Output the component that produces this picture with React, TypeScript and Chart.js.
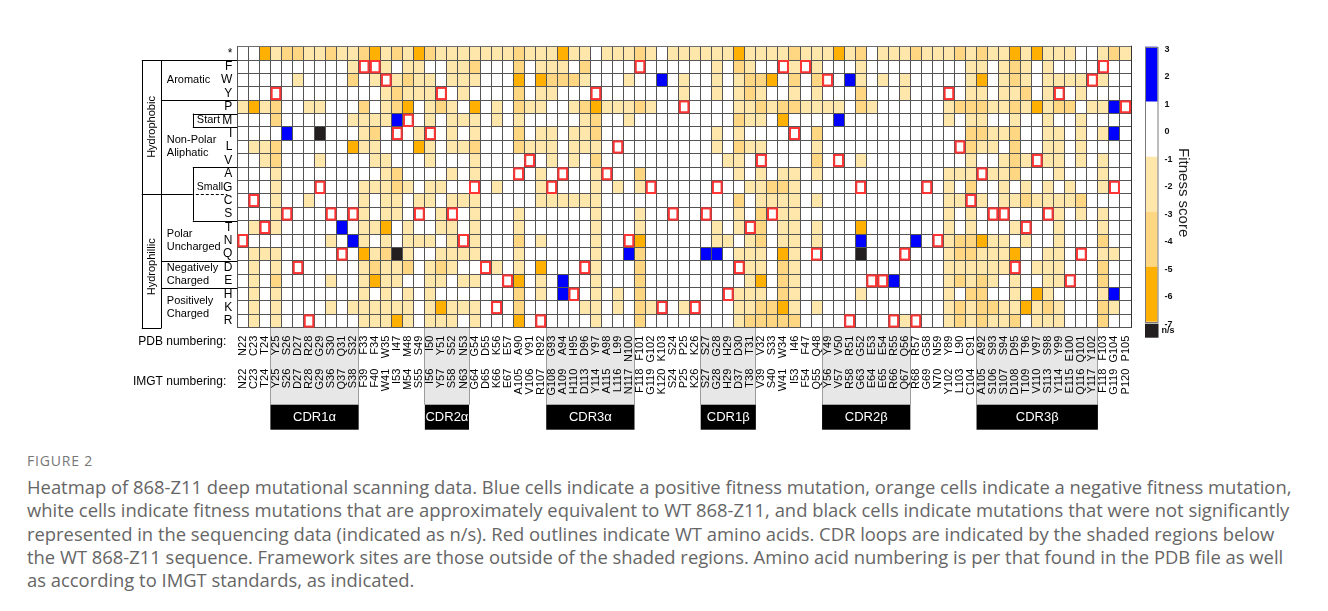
import React, { useEffect, useRef } from "react";
import { Chart, registerables } from "chart.js";

Chart.register(...registerables);

const FONT = "'Liberation Sans', Arial, Helvetica, sans-serif";

// Substitution rows (top to bottom)
const ROWS = ["*", "F", "W", "Y", "P", "M", "I", "L", "V", "A", "G", "C", "S", "T", "N", "Q", "D", "E", "H", "K", "R"];

// Column labels
const PDB_LABELS = ["N22","C23","T24","Y25","S26","D27","R28","G29","S30","Q31","S32","F33","F34","W35","I47","M48","S49","I50","Y51","S52","N53","G54","D55","K56","E57","A90","V91","R92","G93","A94","H95","D96","Y97","A98","L99","N100","F101","G102","K103","S24","P25","K26","S27","G28","H29","D30","T31","V32","S33","W34","I46","F47","Q48","Y49","V50","R51","G52","E53","E54","R55","Q56","R57","G58","N59","Y89","L90","C91","A92","S93","S94","D95","T96","V97","S98","Y99","E100","Q101","Y102","F103","G104","P105"];
const IMGT_LABELS = ["N22","C23","T24","Y25","S26","D27","R28","G29","S36","Q37","S38","F39","F40","W41","I53","M54","S55","I56","Y57","S58","N63","G64","D65","K66","E67","A105","V106","R107","G108","A109","H110","D113","Y114","A115","L116","N117","F118","G119","K120","S24","P25","K26","S27","G28","H29","D37","T38","V39","S40","W41","I53","F54","Q55","Y56","V57","R58","G63","E64","E65","R66","Q67","R68","G69","N70","Y102","L103","C104","A105","S106","S107","D108","T109","V110","S113","Y114","E115","Q116","Y117","F118","G119","P120"];

// Row (residue) that carries the red WT outline in each column, as drawn
const WT_RESIDUES = "NCTYSDRGSQSFFWIMSIYSNGDKEAVRGAHDYALNFGKSPKSGHDTVSFIFQWVRGEERQRGNYLCASSDTVSYEQWFGP".split("");

// Fitness classes, one string per row
// '.' ~0 (white), 'l' ~-2, 'm' ~-4, 'o' ~-6, 'B' ~+2 (blue), 'x' n/s
const FIT_STAR = "..olmmllml lmolmlomll lllllmlllo ll.lllml.l lllllollll mlllolm.ll lmlllmlmll ololll..lml";
const FIT_F = ".......... l..l.ll..l lm...m.lll .m........ ...l.ml... l.l...l... ......ll.l ml.l.......";
const FIT_W = ".....l.... m.l.lmll.l ll...o.omm ml...l..B. l..l.lmmo. m.m..Bl.l. l.....lo.l ml.llll.l..";
const FIT_Y = ".......... ...lmlll.. l....m.ll. .......... l..l.lml.. l.l...m... l.....ll.l lm.l..l....";
const FIT_P = "lolm..ll.. .m.lmo.lml .o.l.mll.. lmolllml.. .....llmlm mllll.ml.. ....lmmmll mlolmm.llB.";
const FIT_M = "...m...... llllB..l.l ll.l.l.... .lm..l.... .....mll.o ....B..... ....l.ll.. l..l..l....";
const FIT_I = "....B..x.. .lm...l..l .l...m.ll. llm....... ...l.l.... ..m....... ......mmll m..ll.l.lB.";
const FIT_L = ".llm...... oll...ol.l lm...mlll. lll....... ...l.mll.. ..l....... ......mll. m..ll.l....";
const FIT_V = "..lm...l.. ..ll...l.. .l......l. l.m....... ....ll.... ..m...l... ......l..l ml.ll.l.l..";
const FIT_A = "...l...... ...lm....l .l.....l.. ..l...m... .....l.l.l l.l....... ....lll.ll m...l...l..";
const FIT_G = "...l...... .lllml.ll. ...l...l.. ..l.l.l... ......llmm l......... ....l.m..l .l.l.l..l..";
const FIT_C = "...l..l... .l.ll.ll.l ll.....lll lll....... .....m.lll l.l....... ....ll.l.l lmllllm....";
const FIT_S = "...l...... .l.ll...l. .l...l.... ..l...l... .....l.m.l l......... ....l.l... ....l.l.l..";
const FIT_T = ".l.l.....B .llo.l..ll .l...l.... ..l...l... ...l.l.m.l l.l...o... ....l.l... l...l...l..";
const FIT_N = "........l. Bl.l.lll.l .l...m.l.. ..l...o... ...ll.lm.l l.l...B... .B..lmmoll .l..l...m..";
const FIT_Q = ".lll...... .olmxl..ll ll...l.... ..l..Bm... ..BB.lll.o l.....x... ....lmmlll o..ll...ll.";
const FIT_D = ".l.l...... .lmllm.lml ...l.l.o.. ..l...m... ......ll.m l......... ....llllll ..lll...m..";
const FIT_E = ".l.m....l. .loll..ll. ll...o.l.B ..l...m... ......lo.m l........B ....lmlml. l..ll...m..";
const FIT_H = ".l.l...... .l.l.l.l.. .....m.l.B ..l.l.m... .....lll.m l.....l... ....l.mm.. l.ol....lB.";
const FIT_K = ".l.l....l. llllll.lol ll...m.... .ll.l.ml.. l....llmmo l.l....... ....lmlmml lolml...ml.";
const FIT_R = ".l.l...... .lllol.lll .l...o.... ..l...m... .....lmmmm m......... l...lmlmll m.lll...m..";
const FITNESS_ROWS = [FIT_STAR, FIT_F, FIT_W, FIT_Y, FIT_P, FIT_M, FIT_I, FIT_L, FIT_V, FIT_A, FIT_G, FIT_C, FIT_S, FIT_T, FIT_N, FIT_Q, FIT_D, FIT_E, FIT_H, FIT_K, FIT_R];
const CODE_SCORE: Record<string, number | null> = { ".": 0, l: -2, m: -4, o: -6, B: 2, x: null };

// CDR loops (column ranges)
const CDR_NAMES = ["CDR1α", "CDR2α", "CDR3α", "CDR1β", "CDR2β", "CDR3β"];
const CDR_START = [3, 17, 28, 42, 53, 67];
const CDR_END = [10, 20, 35, 46, 60, 77];

// Colour scale
const COLORBAR_TICKS = [3, 2, 1, 0, -1, -2, -3, -4, -5, -6, -7];
const BLUE = "#0000ff";
const WHITE = "#ffffff";
const LIGHT = "#ffe6ab";
const MEDIUM = "#ffd782";
const ORANGE = "#ffb000";
const NS = "#231f20";
const COLOR_BANDS: [number, number, string][] = [[3, 1, BLUE], [1, -1, WHITE], [-1, -3, LIGHT], [-3, -5, MEDIUM], [-5, -7, ORANGE]];

const CAPTION_TITLE = "FIGURE 2";
const CAPTION_LINES = [
  "Heatmap of 868-Z11 deep mutational scanning data. Blue cells indicate a positive fitness mutation, orange cells indicate a negative fitness mutation,",
  "white cells indicate fitness mutations that are approximately equivalent to WT 868-Z11, and black cells indicate mutations that were not significantly",
  "represented in the sequencing data (indicated as n/s). Red outlines indicate WT amino acids. CDR loops are indicated by the shaded regions below",
  "the WT 868-Z11 sequence. Framework sites are those outside of the shaded regions. Amino acid numbering is per that found in the PDB file as well",
  "as according to IMGT standards, as indicated.",
];

function colorFor(v: number | null): string {
  if (v === null || v === undefined) return NS;
  if (v > 1) return BLUE;
  if (v >= -1) return WHITE;
  if (v >= -3) return LIGHT;
  if (v >= -5) return MEDIUM;
  return ORANGE;
}

function rowCodes(s: string): string[] {
  return s.replace(/ /g, "").padEnd(PDB_LABELS.length, ".").slice(0, PDB_LABELS.length).split("");
}

function hl(ctx: CanvasRenderingContext2D, y: number, x1: number, x2: number) {
  const yy = Math.round(y) + 0.5;
  ctx.beginPath();
  ctx.moveTo(x1, yy);
  ctx.lineTo(x2, yy);
  ctx.stroke();
}
function vl(ctx: CanvasRenderingContext2D, x: number, y1: number, y2: number) {
  const xx = Math.round(x) + 0.5;
  ctx.beginPath();
  ctx.moveTo(xx, y1);
  ctx.lineTo(xx, y2);
  ctx.stroke();
}

const annotationPlugin = {
  id: "heatmapAnnotations",
  beforeDraw(chart: any) {
    const ctx: CanvasRenderingContext2D = chart.ctx;
    const x = chart.scales.x;
    const x2 = chart.scales.x2;
    const ca = chart.chartArea;
    const half = (x.getPixelForValue(1) - x.getPixelForValue(0)) / 2;
    ctx.save();
    for (let i = 0; i < CDR_NAMES.length; i++) {
      const a = x.getPixelForValue(CDR_START[i]) - half;
      const b = x.getPixelForValue(CDR_END[i]) + half;
      ctx.fillStyle = "#e7e7e7";
      ctx.fillRect(a, ca.bottom, b - a, x2.bottom - ca.bottom);
      ctx.strokeStyle = "#9c9c9c";
      ctx.lineWidth = 1;
      vl(ctx, a - 0.5, ca.bottom, x2.bottom);
      vl(ctx, b - 0.5, ca.bottom, x2.bottom);
    }
    ctx.restore();
  },
  afterDraw(chart: any) {
    const ctx: CanvasRenderingContext2D = chart.ctx;
    const ca = chart.chartArea;
    const x = chart.scales.x;
    const x2 = chart.scales.x2;
    const y = chart.scales.y;
    const Y = (k: number) => y.getPixelForValue(k);
    const L = ca.left;
    ctx.save();

    // heavier frame on top and right edges of the grid
    ctx.strokeStyle = "#6e6e6e";
    ctx.lineWidth = 1;
    hl(ctx, ca.top - 1, ca.left, ca.right + 1);
    ctx.strokeStyle = "#333";
    vl(ctx, ca.right, ca.top - 1, ca.bottom);

    // redraw WT outlines on top of the grid
    const meta = chart.getDatasetMeta(0);
    meta.data.forEach((el: any) => el.draw(ctx));

    // left grouping brackets
    ctx.strokeStyle = "#000";
    ctx.lineWidth = 1;
    const xo = L - 95.5;
    const xi = L - 76;
    const xs = L - 44.5;
    hl(ctx, Y(1), xo, L);
    vl(ctx, xo, Y(1), Y(21) + 0.5);
    vl(ctx, xi, Y(1), Y(21) + 0.5);
    hl(ctx, Y(21), xo, xi);
    hl(ctx, Y(11), xo, xs);
    hl(ctx, Y(4), xi, L);
    hl(ctx, Y(5), xs, L);
    hl(ctx, Y(6), xs, L);
    vl(ctx, xs, Y(5), Y(6));
    hl(ctx, Y(9), xs, L);
    hl(ctx, Y(13), xs, L);
    vl(ctx, xs, Y(9), Y(13));
    hl(ctx, Y(16), xi, L);
    hl(ctx, Y(18), xi, L);
    ctx.setLineDash([3, 2]);
    hl(ctx, Y(11), xs + 3, L - 10);
    ctx.setLineDash([]);

    ctx.fillStyle = "#000";
    ctx.font = `11px ${FONT}`;
    ctx.textBaseline = "middle";
    const rot = (t: string, cx: number, cy: number) => {
      ctx.save();
      ctx.translate(cx, cy);
      ctx.rotate(-Math.PI / 2);
      ctx.textAlign = "center";
      ctx.fillText(t, 0, 0);
      ctx.restore();
    };
    rot("Hydrophobic", L - 85, (Y(1) + Y(11)) / 2);
    rot("Hydrophillic", L - 85, (Y(11) + Y(21)) / 2 + 6);
    ctx.textAlign = "left";
    const gx = L - 70.5;
    ctx.fillText("Aromatic", gx, (Y(1) + Y(4)) / 2);
    ctx.fillText("Start", xs + 4, (Y(5) + Y(6)) / 2);
    ctx.fillText("Non-Polar", gx, (Y(4) + Y(9)) / 2 + 6);
    ctx.fillText("Aliphatic", gx, (Y(4) + Y(9)) / 2 + 19);
    ctx.font = `10.5px ${FONT}`;
    ctx.fillText("Small", xs + 4, (Y(10) + Y(11)) / 2);
    ctx.font = `11px ${FONT}`;
    ctx.fillText("Polar", gx, (Y(13) + Y(16)) / 2 - 6.5);
    ctx.fillText("Uncharged", gx, (Y(13) + Y(16)) / 2 + 6.5);
    ctx.fillText("Negatively", gx, (Y(16) + Y(18)) / 2 - 6.5);
    ctx.fillText("Charged", gx, (Y(16) + Y(18)) / 2 + 6.5);
    ctx.fillText("Positively", gx, (Y(18) + Y(21)) / 2 - 6.5);
    ctx.fillText("Charged", gx, (Y(18) + Y(21)) / 2 + 6.5);

    // numbering row titles
    ctx.font = `12px ${FONT}`;
    ctx.textAlign = "right";
    ctx.fillText("PDB numbering:", L - 11, x.top + 14);
    ctx.fillText("IMGT numbering:", L - 11, x2.top + 17);

    // CDR black boxes
    const half = (x.getPixelForValue(1) - x.getPixelForValue(0)) / 2;
    ctx.font = `13px ${FONT}`;
    ctx.textAlign = "center";
    for (let i = 0; i < CDR_NAMES.length; i++) {
      const a = x.getPixelForValue(CDR_START[i]) - half;
      const b = x.getPixelForValue(CDR_END[i]) + half;
      ctx.fillStyle = "#000";
      ctx.fillRect(a, x2.bottom, b - a, 25);
      ctx.fillStyle = "#fff";
      ctx.fillText(CDR_NAMES[i], (a + b) / 2, x2.bottom + 13);
    }

    // colour bar
    const bx = ca.right + 14;
    const bw = 12.5;
    const unit = (ca.height - 6) / 10;
    const yv = (v: number) => ca.top + (3 - v) * unit;
    for (const [v0, v1, c] of COLOR_BANDS) {
      ctx.fillStyle = c;
      ctx.fillRect(bx, yv(v0), bw, yv(v1) - yv(v0));
    }
    ctx.strokeStyle = "#7a7a7a";
    ctx.strokeRect(Math.round(bx) + 0.5, Math.round(yv(3)) + 0.5, bw, Math.round(yv(-7) - yv(3)));
    ctx.fillStyle = NS;
    ctx.fillRect(bx, yv(-7) + 2, bw + 1, 14);
    ctx.fillStyle = "#111";
    ctx.font = `bold 9px ${FONT}`;
    ctx.textAlign = "left";
    for (const t of COLORBAR_TICKS) {
      ctx.fillText(String(t), bx + bw + 7, yv(t) + 2.5);
    }
    ctx.fillText("n/s", bx + bw + 4, yv(-7) + 9);
    ctx.save();
    ctx.translate(ca.right + 52, ca.top + 146);
    ctx.rotate(Math.PI / 2);
    ctx.textAlign = "center";
    ctx.font = `15px ${FONT}`;
    ctx.fillStyle = "#222";
    ctx.fillText("Fitness score", 0, 0);
    ctx.restore();

    ctx.restore();
  },
};

export default function App() {
  const ref = useRef<HTMLCanvasElement>(null);
  useEffect(() => {
    const canvas = ref.current;
    if (!canvas) return;
    const cellDatasets = ROWS.map((row, r) => ({
      label: row,
      data: PDB_LABELS.map(() => [r, r + 1]),
      backgroundColor: rowCodes(FITNESS_ROWS[r]).map((ch) => colorFor(CODE_SCORE[ch])),
      borderWidth: 0,
      barPercentage: 1,
      categoryPercentage: 1,
      grouped: false,
      inflateAmount: 0,
      order: 1,
    }));
    const wtDataset = {
      label: "WT",
      data: WT_RESIDUES.map((aa) => [ROWS.indexOf(aa), ROWS.indexOf(aa) + 1]),
      backgroundColor: "rgba(0,0,0,0)",
      borderColor: "#ff3434",
      borderWidth: 2,
      borderSkipped: false,
      barPercentage: 1,
      categoryPercentage: 1,
      grouped: false,
      inflateAmount: 0,
      order: 0,
    };
    const tickFont = { family: FONT, size: 11 };
    const chart = new Chart(canvas, {
      type: "bar",
      data: { labels: PDB_LABELS, datasets: [wtDataset, ...cellDatasets] as any },
      options: {
        responsive: false,
        animation: false,
        devicePixelRatio: 1,
        layout: { padding: { left: 199.3, right: 189, top: 38.7, bottom: 43.3 } },
        plugins: { legend: { display: false }, tooltip: { enabled: false } },
        scales: {
          x: {
            type: "category",
            position: "bottom",
            offset: true,
            weight: 0,
            grid: { display: true, offset: true, color: "#555", lineWidth: 1, drawTicks: false, z: 1 },
            border: { display: false },
            ticks: { autoSkip: false, minRotation: 90, maxRotation: 90, padding: 8, color: "#000", font: tickFont },
            afterFit: (s: any) => { s.height = 37; },
          },
          x2: {
            type: "category",
            labels: IMGT_LABELS,
            position: "bottom",
            offset: true,
            weight: 1,
            grid: { display: false, drawTicks: false },
            border: { display: false },
            ticks: { autoSkip: false, minRotation: 90, maxRotation: 90, padding: 4, color: "#000", font: tickFont },
            afterFit: (s: any) => { s.height = 40; },
          },
          y: { type: "linear", min: 0, max: 21, reverse: true, display: false },
          yLab: {
            type: "category",
            labels: ROWS,
            position: "left",
            offset: true,
            weight: 1,
            grid: { display: true, offset: true, color: "#555", lineWidth: 1, drawTicks: false, z: 1 },
            border: { display: false },
            ticks: { autoSkip: false, padding: 5, color: "#000", font: { family: FONT, size: 12 } },
            afterFit: (s: any) => { s.width = 30; },
          },
        },
      } as any,
      plugins: [annotationPlugin],
    });
    return () => chart.destroy();
  }, []);

  return (
    <div style={{ width: 1312 }}>
      <canvas ref={ref} width={1312} height={440} style={{ display: "block" }} />
      <div style={{ fontFamily: "'Open Sans', sans-serif", paddingLeft: 19, whiteSpace: "nowrap" }}>
        <div style={{ fontSize: 14, letterSpacing: 0.8, color: "#777", marginTop: 5, lineHeight: "16px" }}>{CAPTION_TITLE}</div>
        <div style={{ fontSize: 18.4, lineHeight: "23.3px", color: "#666", marginTop: 6 }}>
          {CAPTION_LINES.map((l, i) => (
            <div key={i}>{l}</div>
          ))}
        </div>
      </div>
    </div>
  );
}
